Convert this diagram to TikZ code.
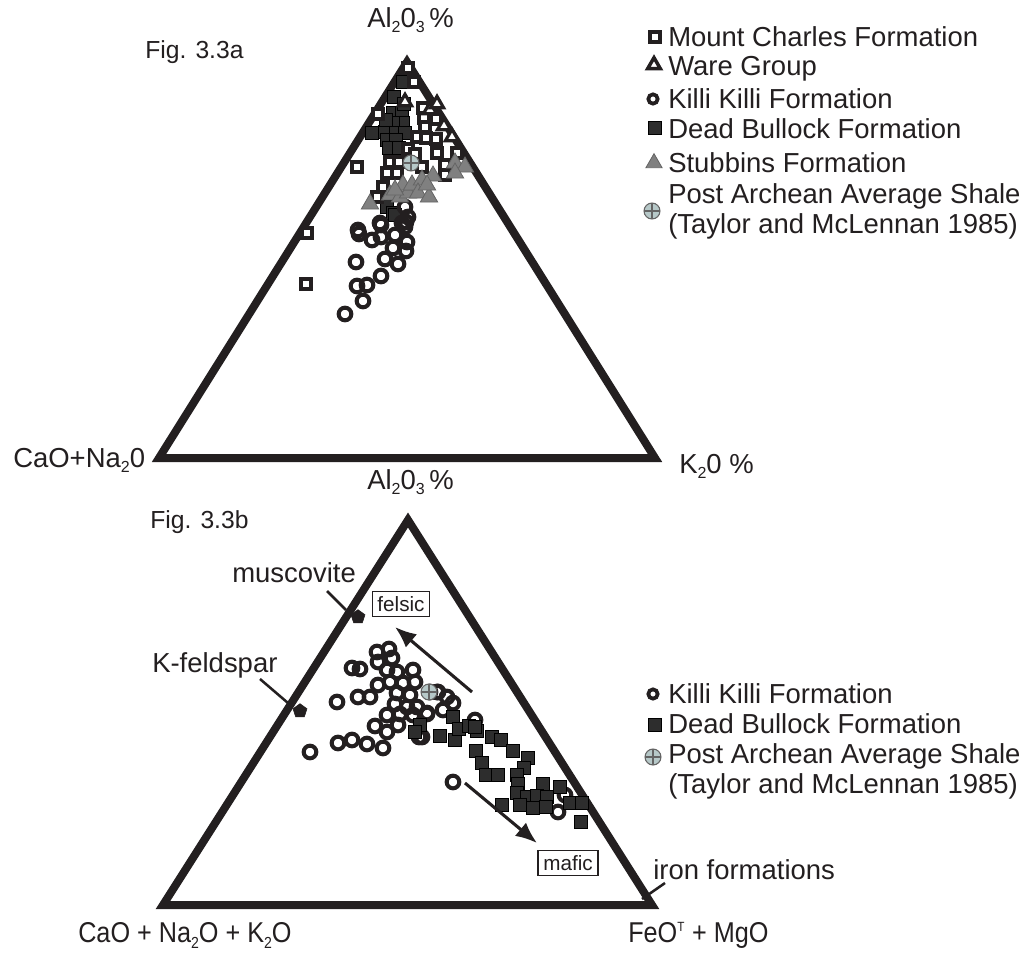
\documentclass[tikz,border=0pt]{standalone}
\usepackage{fontspec}
\setmainfont{Liberation Sans}
\newfontfamily\narrowfont[FakeStretch=0.88]{Liberation Sans}
\usetikzlibrary{shapes.geometric,arrows.meta}
\definecolor{ink}{RGB}{35,31,32}
\definecolor{dsqfill}{RGB}{45,45,45}
\definecolor{stubfill}{RGB}{128,128,128}
\definecolor{stubedge}{RGB}{100,100,100}
\definecolor{paasfill}{RGB}{182,200,200}
\definecolor{paasedge}{RGB}{100,100,100}
\newcommand\lowsub[1]{\raisebox{-0.4ex}{\fontsize{12}{12}\selectfont #1}}
\begin{document}
\begin{tikzpicture}[x=0.75pt,y=-0.75pt,
  tri/.style={draw=ink,line width=6pt,line join=miter,miter limit=10},
  osq/.style={rectangle,draw=ink,fill=white,line width=2.8pt,minimum size=7pt,inner sep=0pt},
  dsq/.style={rectangle,draw=black,fill=dsqfill,line width=0.4pt,minimum size=9.8pt,inner sep=0pt},
  ocirc/.style={circle,draw=ink,line width=3pt,minimum size=9.5pt,inner sep=0pt},
  ware/.style={regular polygon,regular polygon sides=3,draw=ink,fill=white,line width=2.4pt,minimum size=11.5pt,inner sep=0pt},
  stub/.style={regular polygon,regular polygon sides=3,draw=stubedge,fill=stubfill,line width=0.6pt,minimum size=15pt,inner sep=0pt},
  pent/.style={regular polygon,regular polygon sides=5,draw=ink,fill=ink,line width=0.4pt,minimum size=11pt,inner sep=0pt},
  lab/.style={text=ink,font=\fontsize{20.6}{24}\selectfont,inner sep=0pt},
  narrowlab/.style={text=ink,font=\narrowfont\fontsize{21.5}{24}\selectfont,inner sep=0pt},
  figlab/.style={text=ink,font=\fontsize{18.5}{22}\selectfont,inner sep=0pt},
  boxlab/.style={draw=ink,line width=0.8pt,text=ink,font=\fontsize{15.5}{18}\selectfont,inner xsep=4pt,inner ysep=4pt},
  arr/.style={draw=ink,line width=2.3pt,-{Latex[length=16pt,width=13pt]}},
  leader/.style={draw=ink,line width=1.9pt},
  pics/paas/.style={code={
    \draw[draw=paasedge,fill=paasfill,line width=0.8pt] (0,0) circle[radius=8];
    \draw[paasedge,line width=0.8pt] (-8,0)--(8,0) (0,-8)--(0,8);}}
]
\useasboundingbox[fill=white] (0,0) rectangle (1026,954);

% ===================== Fig 3.3a =====================
\draw[tri] (407,62) -- (159,458) -- (655,458) -- cycle;

% Dead Bullock (dark squares)
\foreach \x/\y in {403/82,394/97,393/113,402/113,403/123,393/123,385/132,372/133,396/133,405/133,387/140,396/140,389/148,399/148,387/207,393/213,395/215,386/120,404/104}
  \node[dsq] at (\x,\y) {};
% Mount Charles (open squares)
\foreach \x/\y in {408/68,414/82,378/114,423/108,424/118,436/119,425/127,436/139,417/137,426/138,408/149,390/162,399/162,422/167,437/153,445/165,445/175,457/153,357/167,387/173,397/173,383/187,377/197,307/233,306/284,415/154}
  \node[osq] at (\x,\y) {};
% Ware Group (open triangles)
\foreach \x/\y in {405/102,430/110,444/126,452/137,437/104}
  \node[ware] at (\x,\y) {};
% Killi Killi (circles)
\foreach \x/\y in {405/207,408/217,380/223,402/223,358/230,406/222,405/227,381/225,359/234,372/240,381/237,395/235,407/242,393/248,406/251,356/262,385/259,398/264,381/276,357/286,367/285,363/301,345/314}
  \node[ocirc] at (\x,\y) {};
% Stubbins (grey triangles)
\foreach \x/\y in {370/204,390/195,400/197,408/193,403/185,412/185,422/180,433/176,418/193,429/197,455/163,465/167,455/173,427/185,395/190}
  \node[stub] at (\x,\y) {};
\pic at (411,163) {paas};

\node[lab,anchor=base west] (topA) at (367,27) {Al\lowsub{2}0\lowsub{3}\,\%};
\node[figlab,anchor=base west] (figa) at (145,58) {Fig. 3.3a};
\node[lab,anchor=base west] (topL) at (13,467) {CaO+Na\lowsub{2}0};
\node[lab,anchor=base west] (topR) at (679,473) {K\lowsub{2}0 \%};

% legend a
\node[osq,minimum size=7.5pt,line width=2.6pt] (la1) at (655,37) {};
\node[ware,minimum size=11pt,line width=2.6pt] (la2) at (654,65) {};
\node[ocirc,minimum size=7pt,line width=2.8pt] (la3) at (653,99) {};
\node[dsq,minimum size=9.5pt] (la4) at (655,128) {};
\node[stub,minimum size=14pt] (la5) at (654,163) {};
\pic at (652,211) {paas};
\node[lab,anchor=base west] at (668,46) {Mount Charles Formation};
\node[lab,anchor=base west] at (668,75) {Ware Group};
\node[lab,anchor=base west] at (668,108) {Killi Killi Formation};
\node[lab,anchor=base west] at (668,138) {Dead Bullock Formation};
\node[lab,anchor=base west] at (668,172) {Stubbins Formation};
\node[lab,anchor=base west] at (668,203) {Post Archean Average Shale};
\node[lab,anchor=base west] at (668,233) {(Taylor and McLennan 1985)};

% ===================== Fig 3.3b =====================
\draw[tri] (408,520) -- (163,905) -- (652,905) -- cycle;

% Killi Killi (circles)
\foreach \x/\y in {377/652,389/649,378/662,392/658,352/668,360/669,387/670,397/672,413/670,378/685,390/682,403/683,415/682,337/702,358/697,370/697,397/693,410/695,438/692,447/697,453/703,395/704,407/707,417/707,443/710,387/715,400/714,427/714,413/715,375/726,387/732,398/725,338/743,352/740,367/744,383/748,310/752,419/737,430/692,437/692,427/713,422/737,475/720,453/782,565/795,558/812}
  \node[ocirc] at (\x,\y) {};
% Dead Bullock (dark squares)
\foreach \x/\y in {453/717,440/736,455/740,459/729,469/726,477/731,492/737,501/740,476/751,513/751,482/763,528/758,524/768,486/775,498/775,517/775,518/784,543/784,560/787,517/793,527/797,537/796,547/797,502/805,520/805,533/808,546/807,570/803,582/803,581/822,420/725,415/732,475/727}
  \node[dsq] at (\x,\y) {};
\pic at (429,692) {paas};

% minerals
\node[pent] (musc) at (358,617) {};
\node[pent] (kfel) at (300,711) {};
\node[lab,anchor=base west] (musclab) at (232,582) {muscovite};
\node[lab,anchor=base west] (kfellab) at (152,672) {K-feldspar};
\coordinate (m1) at (327,591);
\coordinate (m2) at (346,610);
\coordinate (k1) at (260,679);
\coordinate (k2) at (288,703);
\draw[leader] (m1) -- (m2);
\draw[leader] (k1) -- (k2);

% felsic / mafic
\node[boxlab] (felsic) at (401,604) {felsic};
\node[boxlab] (mafic) at (568,863) {mafic};
\coordinate (ftail) at (472,692);
\coordinate (fhead) at (395,627);
\coordinate (mtail) at (465,783);
\coordinate (mhead) at (537,843);
\draw[arr] (ftail) -- (fhead);
\draw[arr] (mtail) -- (mhead);

% iron formations
\node[lab,anchor=base west] (iron) at (653,879) {iron formations};
\coordinate (i1) at (665,883);
\coordinate (i2) at (642,899);
\draw[leader] (i1) -- (i2);

\node[lab,anchor=base west] (botA) at (367,489) {Al\lowsub{2}0\lowsub{3}\,\%};
\node[figlab,anchor=base west] (figb) at (150,528) {Fig. 3.3b};
\node[narrowlab,anchor=base west] (botL) at (78,942) {CaO + Na\lowsub{2}O + K\lowsub{2}O};
\node[narrowlab,anchor=base west] (botR) at (628,942) {FeO\textsuperscript{\fontsize{10}{10}\selectfont T} + MgO};

% legend b
\node[ocirc,minimum size=7pt,line width=2.8pt] (lb1) at (653,694) {};
\node[dsq,minimum size=9.5pt] (lb2) at (655,725) {};
\pic at (653,757) {paas};
\node[lab,anchor=base west] at (668,703) {Killi Killi Formation};
\node[lab,anchor=base west] at (668,733) {Dead Bullock Formation};
\node[lab,anchor=base west] at (668,763) {Post Archean Average Shale};
\node[lab,anchor=base west] at (668,793) {(Taylor and McLennan 1985)};
\end{tikzpicture}
\end{document}
